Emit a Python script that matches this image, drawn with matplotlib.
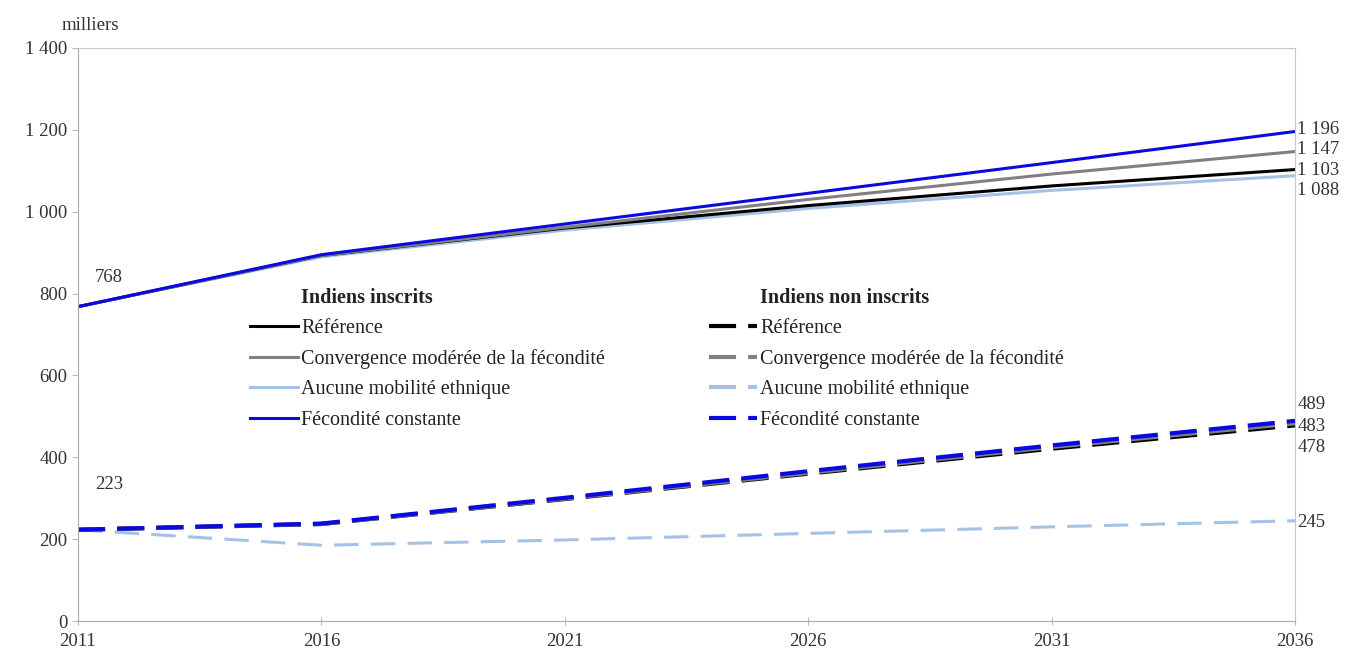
import numpy as np
import matplotlib
matplotlib.use("Agg")
import matplotlib.pyplot as plt
from matplotlib.lines import Line2D
from matplotlib.ticker import FuncFormatter

plt.rcParams["font.family"] = ["Liberation Serif", "DejaVu Serif"]

YEARS = [2011, 2016, 2021, 2026, 2031, 2036]
SCENARIOS = ["Référence", "Convergence modérée de la fécondité",
             "Aucune mobilité ethnique", "Fécondité constante"]
# Indiens inscrits (milliers)
REG_REF = [768, 893, 960, 1015, 1063, 1103]
REG_CONV = [768, 893, 962, 1030, 1092, 1147]
REG_NOMOB = [768, 890, 955, 1008, 1052, 1088]
REG_CONST = [768, 895, 970, 1045, 1120, 1196]
# Indiens non inscrits (milliers)
NON_REF = [223, 237, 298, 360, 421, 478]
NON_CONV = [223, 237, 299, 362, 425, 483]
NON_NOMOB = [223, 185, 198, 214, 230, 245]
NON_CONST = [223, 238, 301, 366, 429, 489]

COLORS = {"Référence": "#000000", "Convergence modérée de la fécondité": "#808080",
          "Aucune mobilité ethnique": "#a4c2e6", "Fécondité constante": "#0a0ae0"}
REG = dict(zip(SCENARIOS, [REG_REF, REG_CONV, REG_NOMOB, REG_CONST]))
NON = dict(zip(SCENARIOS, [NON_REF, NON_CONV, NON_NOMOB, NON_CONST]))
DRAW_ORDER = ["Aucune mobilité ethnique", "Référence",
              "Convergence modérée de la fécondité", "Fécondité constante"]
THICK_DASH = (6.5, 2.9)
THIN_DASH = (8, 4)

fig = plt.figure(figsize=(13.46, 6.51), dpi=100)
ax = fig.add_axes([78 / 1346, 1 - 621 / 651, (1295 - 78) / 1346, (621 - 48) / 651])

for s in DRAW_ORDER:
    ax.plot(YEARS, REG[s], color=COLORS[s], lw=2.2, solid_capstyle="butt")
for s in DRAW_ORDER:
    if s == "Aucune mobilité ethnique":
        ax.plot(YEARS, NON[s], color=COLORS[s], lw=2.2, dashes=THIN_DASH)
    else:
        ax.plot(YEARS, NON[s], color=COLORS[s], lw=3.0, dashes=THICK_DASH)

ax.set_xlim(2011, 2036)
ax.set_ylim(0, 1400)
ax.set_xticks(YEARS)
ax.set_yticks(np.arange(0, 1401, 200))
ax.yaxis.set_major_formatter(FuncFormatter(lambda v, p: f"{int(v):,}".replace(",", " ")))
ax.tick_params(axis="both", labelsize=13.5, labelcolor="#333333", length=4, width=0.8,
               color="#bbbbbb")
ax.tick_params(axis="x", direction="inout", length=6, pad=6)
for k in ["left", "bottom"]:
    ax.spines[k].set_color("#aaaaaa")
for k in ["top", "right"]:
    ax.spines[k].set_color("#c8c8c8")

fig.text(62 / 1346, 1 - 25 / 651, "milliers", fontsize=13.5, color="#333333", va="center")

# value labels
txt = dict(fontsize=13.5, color="#333333", va="center")
ax.text(2011.35, 840, "768", ha="left", **txt)
ax.text(2011.35, 333, "223", ha="left", **txt)
for y, s in [(1202, "1 196"), (1151, "1 147"), (1100, "1 103"), (1051, "1 088"),
             (528, "489"), (475, "483"), (423, "478"), (240, "245")]:
    ax.text(2036.05, y, s, ha="left", clip_on=False, **txt)

# legends
def make_legend(title, dashed, x):
    handles = [Line2D([], [], color="none")]
    for s in SCENARIOS:
        if dashed:
            handles.append(Line2D([], [], color=COLORS[s], lw=3.0, dashes=THICK_DASH))
        else:
            handles.append(Line2D([], [], color=COLORS[s], lw=2.2))
    leg = ax.legend(handles, [title] + SCENARIOS, loc="upper left",
                    bbox_to_anchor=(x, 0.595), frameon=False, fontsize=14.5,
                    handlelength=2.4, handletextpad=0.15, labelspacing=0.55,
                    borderaxespad=0)
    leg.get_texts()[0].set_fontweight("bold")
    for t in leg.get_texts():
        t.set_color("#222222")
    return leg

leg1 = make_legend("Indiens inscrits", False, (242 - 78) / 1217)
ax.add_artist(leg1)
make_legend("Indiens non inscrits", True, (701 - 78) / 1217)

fig.savefig("out.png", dpi=100)
